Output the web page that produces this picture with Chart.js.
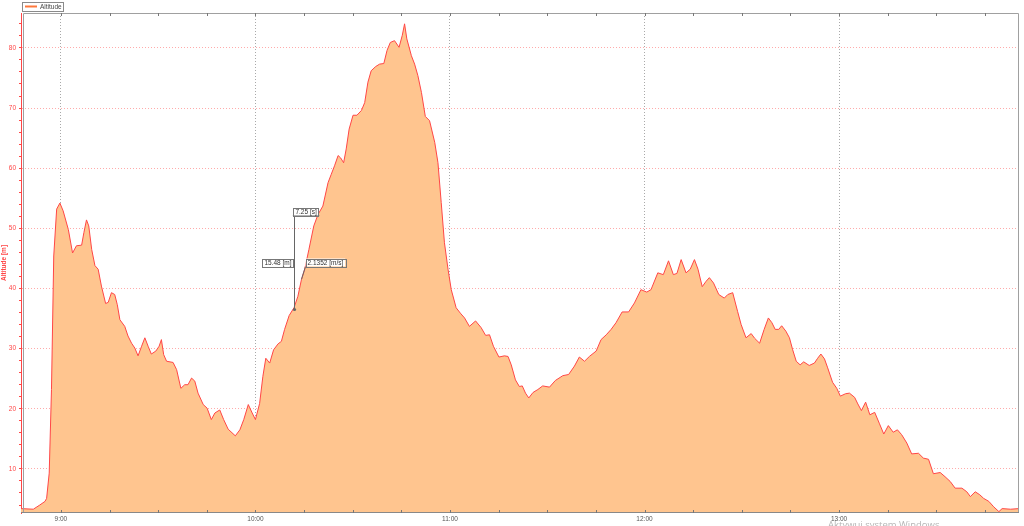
<!DOCTYPE html>
<html>
<head>
<meta charset="utf-8">
<script src="https://cdn.jsdelivr.net/npm/chart.js@4.4.1/dist/chart.umd.min.js"></script>
<style>
  html, body { margin: 0; padding: 0; background: #fff; overflow: hidden; }
  #wrap { position: relative; width: 1024px; height: 526px; }
  #watermark { position: absolute; left: 828px; top: 518px; font: 9.5px "Open Sans", sans-serif; color: rgba(120,120,120,0.55); white-space: nowrap; }
</style>
</head>
<body>
<div id="wrap">
  <canvas id="chart" width="1024" height="526"></canvas>
  <div id="watermark">Aktywuj system Windows</div>
</div>
<script>
// time in minutes after 9:00, altitude in metres
const minutes = [
  -12.3, -8.5, -6.5, -4.9, -4.4, -3.6, -2.9, -2.2, -1.3, -0.3, 0.7, 2.3, 3.6, 4.8, 6.4, 7.1, 7.9, 8.6, 9.5, 10.5,
  11.5, 12.5, 13.8, 14.6, 15.6, 16.6, 17.4, 18.2, 19.7, 20.7, 21.8, 22.8, 23.8, 24.9, 25.9, 26.9, 27.9, 29.3, 30.3, 31.0,
  31.7, 32.6, 34.6, 35.7, 37.0, 38.2, 39.2, 40.3, 41.3, 42.3, 43.9, 45.1, 46.4, 47.5, 49.0, 50.2, 51.6, 53.8, 55.2, 56.4,
  57.8, 59.0, 60.0, 61.3, 62.3, 63.2, 64.4, 65.6, 67.0, 68.0, 69.0, 70.4, 71.9, 73.1, 74.2, 75.2, 76.5, 78.0, 79.3, 80.8,
  82.4, 83.4, 84.4, 85.5, 86.3, 87.2, 88.0, 88.9, 90.1, 91.3, 92.7, 93.7, 94.7, 95.7, 97.1, 98.3, 99.6, 100.6, 101.6, 102.9,
  104.3, 105.3, 106.0, 106.7, 108.1, 109.1, 110.1, 111.2, 112.4, 113.7, 115.3, 116.3, 117.3, 118.3, 119.4, 120.4, 121.9, 123.2, 124.5, 126.0,
  127.9, 129.6, 131.0, 132.2, 133.4, 135.1, 136.8, 137.9, 138.9, 140.2, 141.4, 142.3, 143.3, 144.3, 145.6, 147.1, 148.6, 150.7, 152.5, 154.8,
  156.6, 158.4, 159.9, 161.5, 163.0, 165.1, 166.6, 168.2, 169.7, 171.2, 173.1, 175.1, 176.9, 178.9, 180.7, 182.0, 184.1, 185.8, 187.4, 188.9,
  190.0, 191.3, 192.8, 194.1, 195.4, 196.5, 197.8, 199.0, 200.0, 201.3, 202.9, 204.6, 205.7, 207.2, 208.7, 209.8, 211.3, 212.9, 214.0, 215.5,
  216.9, 218.2, 219.3, 220.3, 221.4, 222.3, 223.6, 224.7, 225.7, 226.8, 228.0, 229.1, 230.8, 232.4, 233.4, 234.4, 235.5, 236.5, 238.0, 239.3,
  240.4, 242.0, 243.2, 244.8, 245.8, 246.9, 248.2, 249.5, 251.0, 252.4, 253.8, 255.2, 256.7, 258.0, 259.3, 260.9, 262.4, 264.5, 266.0, 267.6,
  269.1, 271.2, 272.7, 274.3, 275.8, 277.9, 279.4, 280.5, 282.0, 283.4, 284.6, 286.2, 287.7, 289.3, 290.3, 292.9, 295.5
];
const altitude = [
  3.4, 3.3, 4.0, 4.6, 5.1, 9.3, 23.2, 45.4, 53.2, 54.2, 52.9, 49.8, 45.9, 47.1, 47.2, 49.3, 51.4, 50.4, 46.5, 43.8,
  43.2, 40.4, 37.5, 37.7, 39.3, 39.0, 37.3, 34.8, 33.7, 32.1, 30.9, 30.1, 28.8, 30.4, 31.8, 30.4, 29.1, 29.6, 30.4, 31.5,
  29.0, 27.9, 27.7, 26.5, 23.4, 24.0, 24.0, 25.1, 24.6, 22.6, 20.7, 20.1, 18.2, 19.3, 19.8, 18.2, 16.6, 15.5, 16.5, 18.2,
  20.7, 19.3, 18.2, 20.9, 25.4, 28.4, 27.6, 29.8, 30.8, 31.2, 33.2, 35.5, 36.8, 38.7, 41.5, 43.2, 46.5, 50.4, 52.3, 53.7,
  57.6, 59.0, 60.4, 62.1, 61.7, 60.9, 63.2, 66.5, 68.8, 68.8, 69.6, 70.9, 74.3, 76.2, 76.9, 77.3, 77.4, 79.6, 80.9, 81.2,
  80.1, 82.1, 84.0, 81.5, 78.7, 77.3, 75.4, 72.6, 68.6, 67.9, 64.3, 60.9, 54.3, 47.6, 43.2, 39.8, 36.8, 35.9, 35.1, 33.7,
  34.6, 33.5, 32.2, 32.3, 30.4, 28.6, 28.8, 28.7, 27.3, 24.8, 23.7, 23.8, 22.6, 21.8, 22.7, 23.2, 23.8, 23.6, 24.7, 25.5,
  25.7, 27.1, 28.6, 27.9, 28.7, 29.6, 31.5, 32.3, 33.2, 34.3, 36.1, 36.1, 37.6, 39.8, 39.4, 39.8, 42.6, 42.3, 44.6, 42.3,
  42.5, 44.8, 42.6, 43.2, 44.8, 43.2, 40.3, 41.2, 41.8, 40.9, 39.0, 38.4, 39.0, 39.3, 36.2, 34.0, 31.8, 32.5, 31.7, 30.9,
  33.2, 35.1, 34.3, 33.2, 33.2, 33.8, 32.9, 31.8, 29.8, 27.9, 27.3, 27.8, 27.2, 27.6, 28.4, 29.1, 28.3, 26.8, 24.4, 23.4,
  22.1, 22.5, 22.6, 21.9, 20.8, 19.7, 21.1, 19.0, 19.4, 17.6, 15.8, 17.2, 16.1, 16.5, 15.7, 14.3, 12.5, 12.6, 11.8, 11.6,
  9.2, 9.4, 8.7, 7.9, 6.8, 6.8, 6.2, 5.4, 6.2, 5.7, 5.1, 4.6, 3.7, 2.9, 3.4, 3.3, 3.4
];

// x ticks: every quarter hour, labels on the hours
const xTicks = [0, 15, 30, 45, 60, 75, 90, 105, 120, 135, 150, 165, 180, 195, 210, 225, 240, 255, 270, 285];
const hourTicks = [0, 60, 120, 180, 240];
const hourLabels = ['9:00', '10:00', '11:00', '12:00', '13:00'];

// y ticks: minor every 2 m, labelled every 10 m
const yTicks = [4, 6, 8, 10, 12, 14, 16, 18, 20, 22, 24, 26, 28, 30, 32, 34, 36, 38, 40, 42,
  44, 46, 48, 50, 52, 54, 56, 58, 60, 62, 64, 66, 68, 70, 72, 74, 76, 78, 80, 82, 84];
const yMajor = [10, 20, 30, 40, 50, 60, 70, 80];
const yLabels = ['10', '20', '30', '40', '50', '60', '70', '80'];

// measurement overlay (minutes, metres)
const measureFrom = [71.8, 36.5];
const measureTo = [79.2, 52.2];
const slopeAnchor = [74.2, 41.5];
const measureLabels = ['7.25 [s]', '15.48 [m]', '2.1352 [m/s]'];

const RED = 'rgb(255, 70, 70)';
const FILL = 'rgb(255, 197, 143)';

Chart.defaults.font.family = '"Liberation Sans", Arial, sans-serif';

function labelBox(ctx, text, x, y, align) {
  ctx.font = '6.5px "Liberation Sans", Arial, sans-serif';
  const w = ctx.measureText(text).width + 4;
  const h = 8;
  let left = x;
  if (align === 'right') left = x - w;
  if (align === 'center') left = x - w / 2;
  ctx.fillStyle = '#fff';
  ctx.fillRect(left, y - h / 2, w, h);
  ctx.strokeStyle = '#777';
  ctx.lineWidth = 1;
  ctx.strokeRect(Math.round(left) + 0.5, Math.round(y - h / 2) + 0.5, Math.round(w), h);
  ctx.fillStyle = '#333';
  ctx.textBaseline = 'middle';
  ctx.textAlign = 'left';
  ctx.fillText(text, left + 2, y + 0.5);
}

const measurePlugin = {
  id: 'measure',
  afterDatasetsDraw(chart) {
    const {ctx, scales: {x, y}} = chart;
    const x0 = Math.round(x.getPixelForValue(measureFrom[0])) + 0.5;
    const y0 = y.getPixelForValue(measureFrom[1]);
    const x1 = x.getPixelForValue(measureTo[0]);
    const y1 = Math.round(y.getPixelForValue(measureTo[1])) + 0.5;
    const ax = x.getPixelForValue(slopeAnchor[0]);
    const ay = y.getPixelForValue(slopeAnchor[1]);
    const midY = (y0 + y1) / 2;
    ctx.save();
    ctx.strokeStyle = '#666';
    ctx.lineWidth = 1;
    ctx.beginPath();
    ctx.moveTo(x0, y0);
    ctx.lineTo(x0, y1);
    ctx.lineTo(x1, y1);
    ctx.moveTo(ax, ay);
    ctx.lineTo(x0 + 11, midY + 4);
    ctx.stroke();
    ctx.fillStyle = '#666';
    [[x0, y0], [x0, y1], [x1, y1]].forEach(([px, py]) => {
      ctx.beginPath();
      ctx.arc(px, py, 1.6, 0, Math.PI * 2);
      ctx.fill();
    });
    labelBox(ctx, measureLabels[0], (x0 + x1) / 2, y1 - 4, 'center');
    labelBox(ctx, measureLabels[1], x0 - 1, midY, 'right');
    labelBox(ctx, measureLabels[2], x0 + 11, midY, 'left');
    ctx.restore();
  }
};

const framePlugin = {
  id: 'frame',
  afterDraw(chart) {
    const {ctx, chartArea: a, scales: {x}} = chart;
    ctx.save();
    ctx.strokeStyle = '#a0a0a0';
    ctx.lineWidth = 1;
    ctx.beginPath();
    ctx.moveTo(a.left + 2.5, a.bottom);
    ctx.lineTo(a.left + 2.5, a.top + 0.5);
    ctx.lineTo(a.right - 0.5, a.top + 0.5);
    ctx.lineTo(a.right - 0.5, a.bottom);
    ctx.stroke();
    ctx.strokeStyle = '#888';
    ctx.beginPath();
    ctx.moveTo(a.left, a.bottom - 0.5);
    ctx.lineTo(a.right, a.bottom - 0.5);
    ctx.stroke();
    // inward quarter-hour ticks on top and bottom
    ctx.strokeStyle = '#777';
    ctx.beginPath();
    xTicks.forEach(v => {
      const px = Math.round(x.getPixelForValue(v)) + 0.5;
      ctx.moveTo(px, a.top);
      ctx.lineTo(px, a.top + 3);
      ctx.moveTo(px, a.bottom);
      ctx.lineTo(px, a.bottom - 3);
    });
    ctx.stroke();
    // legend
    ctx.fillStyle = '#fff';
    ctx.fillRect(22, 2, 41, 9);
    ctx.strokeStyle = '#8a8a8a';
    ctx.strokeRect(22.5, 2.5, 41, 9);
    ctx.strokeStyle = 'rgb(255, 120, 60)';
    ctx.lineWidth = 2;
    ctx.beginPath();
    ctx.moveTo(25, 6.5);
    ctx.lineTo(37, 6.5);
    ctx.stroke();
    ctx.fillStyle = '#444';
    ctx.font = '6.5px "Liberation Sans", Arial, sans-serif';
    ctx.textBaseline = 'middle';
    ctx.fillText(chart.data.datasets[0].label, 40, 7);
    ctx.restore();
  }
};

new Chart(document.getElementById('chart'), {
  type: 'line',
  data: {
    datasets: [{
      label: 'Altitude',
      data: minutes.map((m, i) => ({x: m, y: altitude[i]})),
      borderColor: RED,
      backgroundColor: FILL,
      borderWidth: 1,
      pointRadius: 0,
      tension: 0,
      fill: 'start'
    }]
  },
  options: {
    responsive: false,
    animation: false,
    layout: {padding: {top: 13, right: 5, left: 0, bottom: 0}},
    plugins: {legend: {display: false}, tooltip: {enabled: false}},
    scales: {
      x: {
        type: 'linear',
        min: -12.3,
        max: 295.5,
        afterBuildTicks: s => { s.ticks = xTicks.map(v => ({value: v})); },
        afterFit: s => { s.height = 13; },
        ticks: {
          autoSkip: false,
          maxRotation: 0,
          padding: 2,
          color: '#555',
          font: {size: 6.5},
          callback: v => { const i = hourTicks.indexOf(v); return i >= 0 ? hourLabels[i] : ''; }
        },
        grid: {
          drawTicks: false,
          color: c => (c.tick && hourTicks.includes(c.tick.value)) ? 'rgba(160,160,160,0.9)' : 'rgba(0,0,0,0)',
          lineWidth: 1
        },
        border: {display: false, dash: [1, 2]}
      },
      y: {
        min: 2.67,
        max: 85.8,
        afterBuildTicks: s => { s.ticks = yTicks.map(v => ({value: v})); },
        afterFit: s => { s.width = 21; },
        ticks: {
          autoSkip: false,
          padding: 3,
          color: RED,
          font: {size: 6.5},
          callback: v => { const i = yMajor.indexOf(v); return i >= 0 ? yLabels[i] : ''; }
        },
        grid: {
          tickLength: 2,
          tickColor: RED,
          color: c => (c.tick && yMajor.includes(c.tick.value)) ? 'rgba(255,150,150,0.8)' : 'rgba(0,0,0,0)',
          lineWidth: 1
        },
        border: {display: true, color: RED, width: 1, dash: [1, 2]},
        title: {display: true, text: 'Altitude [m]', color: RED, padding: 0, font: {size: 6.5, weight: 'bold'}}
      }
    }
  },
  plugins: [measurePlugin, framePlugin]
});
</script>
</body>
</html>
